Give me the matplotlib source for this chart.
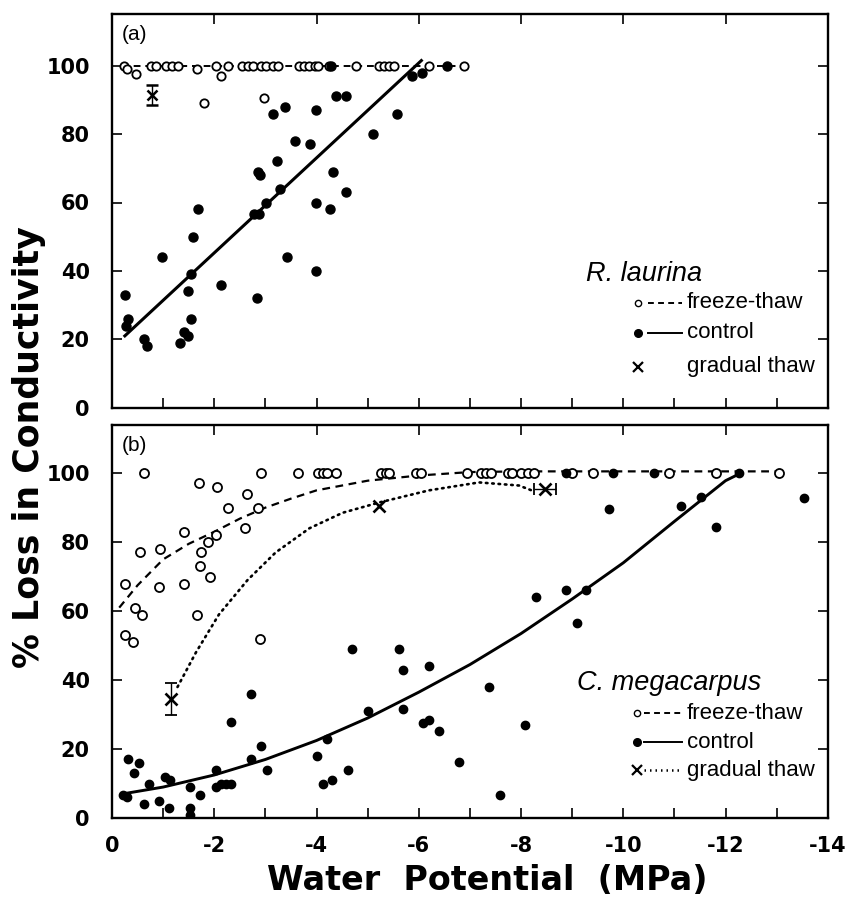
import numpy as np
import matplotlib
matplotlib.use('Agg')
import matplotlib.pyplot as plt
from matplotlib.ticker import MultipleLocator

plt.rcParams['font.family'] = 'DejaVu Sans'
plt.rcParams['font.weight'] = 'bold'
plt.rcParams['axes.unicode_minus'] = False

# water potential given as magnitude (MPa), plotted as negative values

# ---- (a) R. laurina ----
a_ctrl_x = [0.25, 0.31, 0.27, 0.63, 0.69, 0.98, 1.33, 1.41, 1.49, 1.49, 1.54, 1.55, 1.59, 1.68,
            2.13, 2.84, 2.77, 2.88, 2.86, 2.89, 3.02, 3.14, 3.22, 3.29, 3.39, 3.42, 3.58, 3.87,
            3.99, 3.99, 3.99, 4.27, 4.32, 4.38, 4.57, 4.58, 4.28, 5.11, 5.58, 5.86, 6.07, 6.56]
a_ctrl_y = [33, 26, 24, 20, 18, 44, 19, 22, 21, 34, 39, 26, 50, 58,
            36, 32, 56.5, 56.5, 69, 68, 60, 86, 72, 64, 88, 44, 78, 77,
            87, 60, 40, 58, 69, 91, 91, 63, 100, 80, 86, 97, 98, 100]
a_ft_x = [0.24, 0.30, 0.46, 0.76, 0.86, 1.05, 1.18, 1.28, 1.67, 2.03, 2.13, 2.26, 2.55, 2.65,
          2.75, 2.91, 3.01, 3.14, 3.24, 3.66, 3.76, 3.86, 3.96, 4.02, 4.25, 4.77, 5.22, 5.32,
          5.42, 5.52, 6.20, 6.89, 1.79, 2.97]
a_ft_y = [100, 99, 97.5, 100, 100, 100, 100, 100, 99, 100, 97, 100, 100, 100,
          100, 100, 100, 100, 100, 100, 100, 100, 100, 100, 100, 100, 100, 100,
          100, 100, 100, 100, 89, 90.5]
a_grad_x = [0.79]
a_grad_y = [91.5]
a_grad_yerr = [3]
a_ctrl_fit_x = [0.25, 6.05]
a_ctrl_fit_y = [21, 101.5]
a_ft_fit_x = [0.2, 6.9]
a_ft_fit_y = [100, 100]

# ---- (b) C. megacarpus ----
b_ft_x = [0.63, 0.25, 0.25, 0.41, 0.45, 0.59, 0.55, 0.94, 0.92, 1.41, 1.41, 1.67, 1.70, 1.74,
          1.72, 1.88, 1.92, 2.03, 2.06, 2.27, 2.61, 2.63, 2.86, 2.91, 2.90, 3.63, 4.02, 4.12,
          4.21, 4.38, 5.26, 5.36, 5.42, 5.94, 6.05, 6.95, 7.21, 7.31, 7.41, 7.74, 7.83, 8.00,
          8.13, 8.26, 9.00, 9.40, 10.90, 11.81, 13.05]
b_ft_y = [100, 68, 53, 51, 61, 59, 77, 78, 67, 83, 68, 59, 97, 77,
          73, 80, 70, 82, 96, 90, 84, 94, 90, 100, 52, 100, 100, 100,
          100, 100, 100, 100, 100, 100, 100, 100, 100, 100, 100, 100, 100, 100,
          100, 100, 100, 100, 100, 100, 100]
b_ctrl_x = [0.22, 0.30, 0.32, 0.43, 0.53, 0.63, 0.72, 0.92, 1.04, 1.14, 1.12, 1.52, 1.52, 1.52,
            1.72, 2.03, 2.03, 2.13, 2.23, 2.32, 2.32, 2.71, 2.71, 2.92, 3.03, 4.01, 4.12, 4.21,
            4.31, 4.61, 4.70, 5.00, 5.61, 5.70, 5.70, 6.09, 6.19, 6.19, 6.40, 6.79, 7.38, 7.59,
            8.08, 8.29, 8.88, 9.28, 9.09, 9.73, 11.12, 11.52, 11.81, 13.53, 8.88, 9.79, 10.61,
            12.27]
b_ctrl_y = [6.7, 6, 17, 13, 16, 4, 10, 5, 12, 11, 3, 9, 3, 1,
            6.7, 14, 9, 10, 10, 10, 28, 17, 36, 21, 14, 18, 10, 23,
            11, 14, 49, 31, 49, 43, 31.5, 27.5, 28.5, 44, 25.3, 16.2, 38, 6.6,
            27, 64, 66, 66, 56.5, 89.5, 90.5, 93, 84.5, 92.7, 100, 100, 100,
            100]
b_grad_x = [1.15, 5.23, 8.47]
b_grad_y = [34.6, 90.5, 95.5]
b_grad_xerr = [0, 0, 0.22]
b_grad_yerr = [4.7, 0, 0]
b_ctrl_fit_x = [0.2, 1, 2, 3, 4, 5, 6, 7, 8, 9, 10, 11, 12, 12.3]
b_ctrl_fit_y = [7, 9, 12.5, 17, 22.5, 29, 36.5, 44.5, 53.5, 63.5, 74, 86, 97.8, 100]
b_ft_fit_x = [0.14, 0.5, 1, 1.5, 2, 2.5, 3, 3.5, 4, 5, 6, 7, 8, 13.05]
b_ft_fit_y = [61, 67.5, 75, 79.5, 83, 86.8, 90, 92.6, 95, 97.8, 99.3, 100.3, 100.5, 100.5]
b_gt_fit_x = [1.28, 1.64, 2.09, 2.65, 3.2, 3.86, 4.51, 5.23, 6.2, 7.18, 7.96, 8.24]
b_gt_fit_y = [38, 48, 59, 69, 77, 84, 88.5, 91.5, 95, 97.3, 96.4, 94.8]


def neg(v):
    return -np.asarray(v, dtype=float)


fig = plt.figure(figsize=(8.49, 9.0), dpi=100)
ax_a = fig.add_axes([0.132, 0.547, 0.843, 0.437])
ax_b = fig.add_axes([0.132, 0.091, 0.843, 0.437])

for ax, ytop in ((ax_a, 115), (ax_b, 114)):
    ax.set_xlim(0, -14)
    ax.set_ylim(0, ytop)
    ax.xaxis.set_major_locator(MultipleLocator(2))
    ax.xaxis.set_minor_locator(MultipleLocator(1))
    ax.yaxis.set_major_locator(MultipleLocator(20))
    ax.tick_params(which='both', direction='in', length=7, width=1.2,
                   top=True, right=True, labelsize=15)
    ax.tick_params(which='minor', top=False)
    ax.tick_params(axis='y', pad=16)
    ax.tick_params(axis='x', pad=13)
    for sp in ax.spines.values():
        sp.set_linewidth(1.7)

ax_a.tick_params(labelbottom=False)

leg_font = dict(family='Liberation Sans', fontweight='normal')

# ---- panel (a) ----
ax_a.plot(neg(a_ft_fit_x), a_ft_fit_y, color='k', lw=1.4, ls=(0, (3.5, 2.5)))
ax_a.plot(neg(a_ctrl_fit_x), a_ctrl_fit_y, color='k', lw=2.2)
ax_a.plot(neg(a_ft_x), a_ft_y, 'o', ms=6, mfc='white', mec='k', mew=1.3)
ax_a.plot(neg(a_ctrl_x), a_ctrl_y, 'o', ms=6.5, color='k')
ax_a.errorbar(neg(a_grad_x), a_grad_y, yerr=a_grad_yerr, fmt='x', color='k',
              ms=7, mew=1.8, capsize=4, elinewidth=1, capthick=1.5)
ax_a.text(0.013, 0.972, '(a)', transform=ax_a.transAxes, ha='left', va='top',
          fontsize=15, **leg_font)

# ---- panel (b) ----
ax_b.plot(neg(b_ft_fit_x), b_ft_fit_y, color='k', lw=1.6, ls=(0, (3.5, 2.5)))
ax_b.plot(neg(b_gt_fit_x), b_gt_fit_y, color='k', lw=1.9, ls=(0, (0.6, 1.8)),
          dash_capstyle='round')
ax_b.plot(neg(b_ctrl_fit_x), b_ctrl_fit_y, color='k', lw=2.1)
ax_b.plot(neg(b_ft_x), b_ft_y, 'o', ms=6.5, mfc='white', mec='k', mew=1.3)
ax_b.plot(neg(b_ctrl_x), b_ctrl_y, 'o', ms=6.0, color='k')
ax_b.plot(neg(b_grad_x), b_grad_y, 'x', color='k', ms=8, mew=1.9)
for gx, gy, ex, ey in zip(b_grad_x, b_grad_y, b_grad_xerr, b_grad_yerr):
    if ex or ey:
        ax_b.errorbar(-gx, gy, xerr=ex if ex else None, yerr=ey if ey else None,
                      fmt='none', ecolor='k', elinewidth=1, capsize=4, capthick=1.3)
ax_b.text(0.013, 0.972, '(b)', transform=ax_b.transAxes, ha='left', va='top',
          fontsize=15, **leg_font)


def legend(ax, title, title_xy, rows, mx, lx0, lx1, tx):
    ax.text(title_xy[0], title_xy[1], title, transform=ax.transAxes, ha='center',
            va='center', fontsize=19.5, style='italic', **leg_font)
    for y, mk, ls, label in rows:
        if mk == 'open':
            ax.plot([mx], [y], 'o', ms=4.5, mfc='white', mec='k', mew=1.0,
                    transform=ax.transAxes)
        elif mk == 'filled':
            ax.plot([mx], [y], 'o', ms=5.5, color='k', transform=ax.transAxes)
        else:
            ax.plot([mx], [y], 'x', ms=6.5, mew=1.6, color='k', transform=ax.transAxes)
        if ls is not None:
            lw = 1.8 if ls == ':' else 1.4
            style = {'--': (0, (3, 2.2)), '-': '-', ':': (0, (0.6, 1.6))}[ls]
            ax.plot([lx0, lx1], [y, y], color='k', lw=lw, ls=style,
                    transform=ax.transAxes)
        ax.text(tx, y, label, transform=ax.transAxes, ha='left', va='center',
                fontsize=16, **leg_font)


legend(ax_a, 'R. laurina', (0.744, 0.341),
       [(0.267, 'open', '--', 'freeze-thaw'),
        (0.191, 'filled', '-', 'control'),
        (0.104, 'x', None, 'gradual thaw')],
       0.735, 0.749, 0.797, 0.803)
legend(ax_b, 'C. megacarpus', (0.779, 0.344),
       [(0.267, 'open', '--', 'freeze-thaw'),
        (0.193, 'filled', '-', 'control'),
        (0.122, 'x', ':', 'gradual thaw')],
       0.733, 0.743, 0.797, 0.803)

fig.text(0.034, 0.503, '% Loss in Conductivity', rotation=90, ha='center', va='center',
         fontsize=25, fontweight='bold')
fig.text(0.574, 0.022, 'Water  Potential  (MPa)', ha='center', va='center',
         fontsize=24, fontweight='bold')

fig.savefig('out.png', dpi=100)
